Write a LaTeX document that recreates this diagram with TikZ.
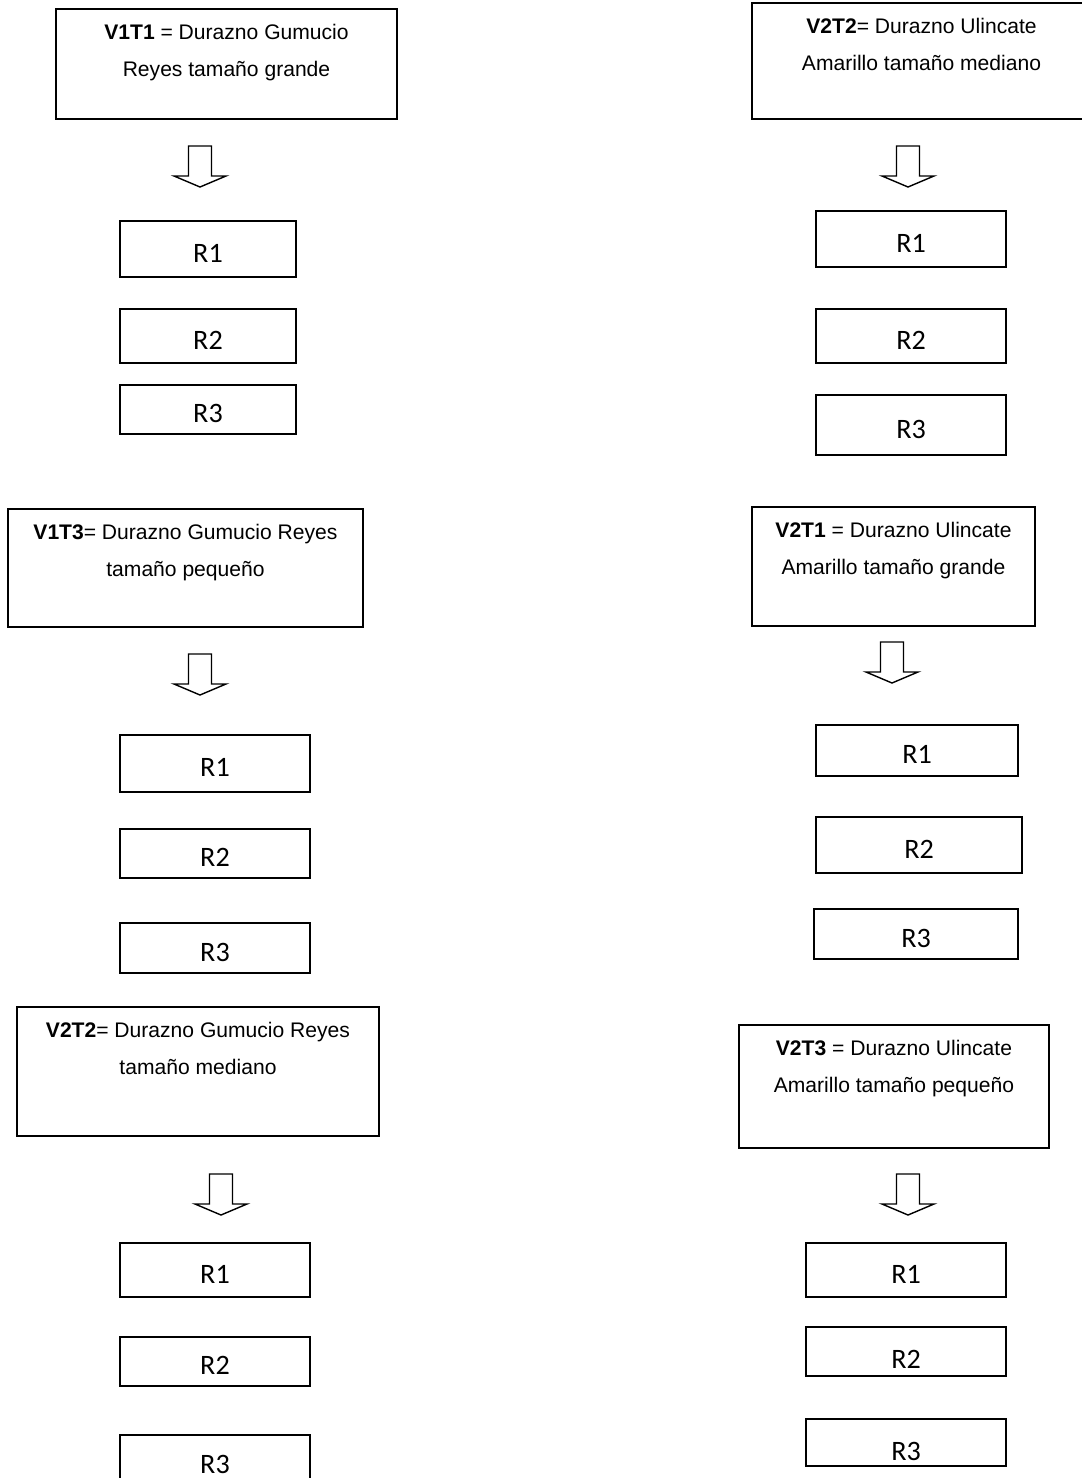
\documentclass[tikz,border=0pt]{standalone}
\usepackage{fontspec}
\setmainfont{Liberation Sans}
\newfontfamily\calibri{Carlito}
\usetikzlibrary{positioning}

\begin{document}
\begin{tikzpicture}
  [x=0.02cm,y=-0.02cm,line width=0.8pt,
   headbox/.style={draw,rectangle},
   headtext/.style={align=center,inner sep=0pt,font=\fontsize{12}{21}\selectfont},
   rbox/.style={draw,rectangle,inner sep=0pt,text height=15pt,text depth=0pt,font=\calibri\fontsize{16}{19}\selectfont},
   downarrow/.pic={\draw (-11.5,0) -- (-11.5,30) -- (-26,30) -- (0,41) -- (26,30) -- (11.5,30) -- (11.5,0) -- cycle;}]
  \useasboundingbox (0,0) rectangle (1082,1478);
  \clip (0,0) rectangle (1082,1478);

  \node[headbox,minimum width=6.82cm,minimum height=2.2cm] (h1) at (226.5,64) {};
  \node[headtext,below=0.3cm of h1.north] (h1txt) {\textbf{V1T1} = Durazno Gumucio\\Reyes tamaño grande};
  \pic at (200,146) {downarrow};
  \node[rbox,minimum width=3.52cm,minimum height=1.12cm] (h1r1) at (208,249) {R1};
  \node[rbox,minimum width=3.52cm,minimum height=1.08cm] (h1r2) at (208,336) {R2};
  \node[rbox,minimum width=3.52cm,minimum height=0.98cm] (h1r3) at (208,409.5) {R3};

  \node[headbox,minimum width=7.1cm,minimum height=2.36cm] (h2) at (185.5,568) {};
  \node[headtext,below=0.3cm of h2.north] (h2txt) {\textbf{V1T3}= Durazno Gumucio Reyes\\tamaño pequeño};
  \pic at (200,654) {downarrow};
  \node[rbox,minimum width=3.8cm,minimum height=1.14cm] (h2r1) at (215,763.5) {R1};
  \node[rbox,minimum width=3.8cm,minimum height=0.98cm] (h2r2) at (215,853.5) {R2};
  \node[rbox,minimum width=3.8cm,minimum height=1.0cm] (h2r3) at (215,948) {R3};

  \node[headbox,minimum width=7.24cm,minimum height=2.58cm] (h3) at (198,1071.5) {};
  \node[headtext,below=0.3cm of h3.north] (h3txt) {\textbf{V2T2}= Durazno Gumucio Reyes\\tamaño mediano};
  \pic at (221,1174) {downarrow};
  \node[rbox,minimum width=3.8cm,minimum height=1.08cm] (h3r1) at (215,1270) {R1};
  \node[rbox,minimum width=3.8cm,minimum height=0.98cm] (h3r2) at (215,1361.5) {R2};
  \node[rbox,minimum width=3.8cm,minimum height=1.0cm] (h3r3) at (215,1460) {R3};

  \node[headbox,minimum width=6.78cm,minimum height=2.32cm] (h4) at (921.5,61) {};
  \node[headtext,below=0.3cm of h4.north] (h4txt) {\textbf{V2T2}= Durazno Ulincate\\Amarillo tamaño mediano};
  \pic at (908,146) {downarrow};
  \node[rbox,minimum width=3.8cm,minimum height=1.12cm] (h4r1) at (911,239) {R1};
  \node[rbox,minimum width=3.8cm,minimum height=1.08cm] (h4r2) at (911,336) {R2};
  \node[rbox,minimum width=3.8cm,minimum height=1.2cm] (h4r3) at (911,425) {R3};

  \node[headbox,minimum width=5.66cm,minimum height=2.38cm] (h5) at (893.5,566.5) {};
  \node[headtext,below=0.3cm of h5.north] (h5txt) {\textbf{V2T1} = Durazno Ulincate\\Amarillo tamaño grande};
  \pic at (892,642) {downarrow};
  \node[rbox,minimum width=4.04cm,minimum height=1.02cm] (h5r1) at (917,750.5) {R1};
  \node[rbox,minimum width=4.12cm,minimum height=1.12cm] (h5r2) at (919,845) {R2};
  \node[rbox,minimum width=4.08cm,minimum height=1.0cm] (h5r3) at (916,934) {R3};

  \node[headbox,minimum width=6.2cm,minimum height=2.46cm] (h6) at (894,1086.5) {};
  \node[headtext,below=0.3cm of h6.north] (h6txt) {\textbf{V2T3} = Durazno Ulincate\\Amarillo tamaño pequeño};
  \pic at (908,1174) {downarrow};
  \node[rbox,minimum width=4.0cm,minimum height=1.08cm] (h6r1) at (906,1270) {R1};
  \node[rbox,minimum width=4.0cm,minimum height=0.98cm,text height=19pt] (h6r2) at (906,1351.5) {R2};
  \node[rbox,minimum width=4.0cm,minimum height=0.94cm,text height=21pt] (h6r3) at (906,1442.5) {R3};

\end{tikzpicture}
\end{document}
